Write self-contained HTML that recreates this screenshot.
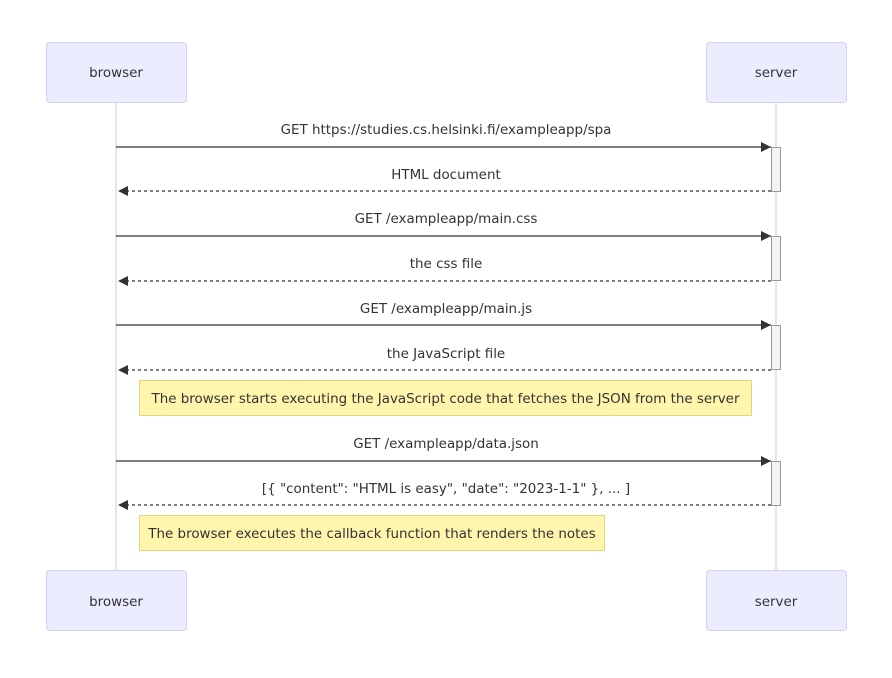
<!DOCTYPE html>
<html><head><meta charset="utf-8"><style>
html,body{margin:0;padding:0;background:#fff;}
svg text{font-family:"DejaVu Sans","Liberation Sans",sans-serif;font-size:13.45px;fill:#333;}
</style></head><body>
<svg width="892" height="673" viewBox="0 0 892 673" xmlns="http://www.w3.org/2000/svg">
<defs>
<marker id="a" markerWidth="10" markerHeight="10" refX="10" refY="5" orient="auto" markerUnits="userSpaceOnUse" viewBox="0 0 10 10"><path d="M0,0 L10,5 L0,10 z" fill="#333"/></marker>
</defs>
<line x1="116" y1="102" x2="116" y2="570" stroke="#e0d7fb" stroke-width="1.5"/>
<line x1="776" y1="102" x2="776" y2="570" stroke="#e0d7fb" stroke-width="1.5"/>
<g fill="#ececff" stroke="#d5d0f5" stroke-width="1">
<rect x="46.5" y="42.5" width="140" height="60" rx="3"/>
<rect x="706.5" y="42.5" width="140" height="60" rx="3"/>
<rect x="46.5" y="570.5" width="140" height="60" rx="3"/>
<rect x="706.5" y="570.5" width="140" height="60" rx="3"/>
</g>
<g text-anchor="middle">
<text x="116" y="77">browser</text><text x="776" y="77">server</text>
<text x="116" y="606">browser</text><text x="776" y="606">server</text>
</g>
<g fill="#f4f4f4" stroke="#999">
<rect x="771.5" y="147.5" width="9" height="44"/>
<rect x="771.5" y="236.5" width="9" height="44"/>
<rect x="771.5" y="325.5" width="9" height="44"/>
<rect x="771.5" y="461.5" width="9" height="44"/>
</g>
<g stroke="#333" stroke-width="1.3">
<line x1="116" y1="147" x2="771" y2="147" marker-end="url(#a)"/>
<line x1="771" y1="191" x2="118" y2="191" stroke-dasharray="3,3" marker-end="url(#a)"/>
<line x1="116" y1="236" x2="771" y2="236" marker-end="url(#a)"/>
<line x1="771" y1="281" x2="118" y2="281" stroke-dasharray="3,3" marker-end="url(#a)"/>
<line x1="116" y1="325" x2="771" y2="325" marker-end="url(#a)"/>
<line x1="771" y1="370" x2="118" y2="370" stroke-dasharray="3,3" marker-end="url(#a)"/>
<line x1="116" y1="461" x2="771" y2="461" marker-end="url(#a)"/>
<line x1="771" y1="505" x2="118" y2="505" stroke-dasharray="3,3" marker-end="url(#a)"/>
</g>
<g text-anchor="middle">
<text x="446" y="134">GET https://studies.cs.helsinki.fi/exampleapp/spa</text>
<text x="446" y="179">HTML document</text>
<text x="446" y="223">GET /exampleapp/main.css</text>
<text x="446" y="268">the css file</text>
<text x="446" y="313">GET /exampleapp/main.js</text>
<text x="446" y="358">the JavaScript file</text>
<text x="446" y="448">GET /exampleapp/data.json</text>
<text x="446" y="493">[{ "content": "HTML is easy", "date": "2023-1-1" }, ... ]</text>
</g>
<rect x="139.5" y="380.5" width="612" height="35" fill="#fff5ad" stroke="#e6d280"/>
<text x="445.5" y="403" text-anchor="middle">The browser starts executing the JavaScript code that fetches the JSON from the server</text>
<rect x="139.5" y="515.5" width="465" height="35" fill="#fff5ad" stroke="#e6d280"/>
<text x="372" y="538" text-anchor="middle">The browser executes the callback function that renders the notes</text>
</svg>
</body></html>
